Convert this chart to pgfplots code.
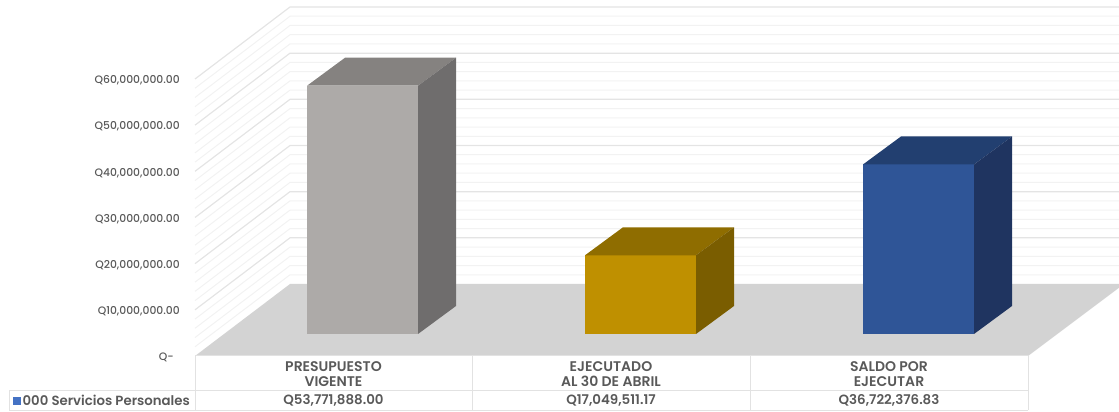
\documentclass[border=0pt]{standalone}
\usepackage{fontspec}
\setmainfont{Poppins}
\newfontfamily\pmed{Poppins Medium}
\newfontfamily\psemi{Poppins SemiBold}
\usepackage{pgfplots}
\pgfplotsset{compat=1.18}
\definecolor{txt}{HTML}{595959}
\definecolor{gridmaj}{HTML}{E4E4E4}
\definecolor{gridmin}{HTML}{F2F2F2}
\definecolor{tbl}{HTML}{E2E2E2}
\definecolor{floorc}{HTML}{D3D3D3}
\definecolor{legblue}{HTML}{4472C4}
% front, top, side of each bar
\definecolor{grayF}{HTML}{ADAAA8}
\definecolor{grayT}{HTML}{858280}
\definecolor{grayS}{HTML}{6F6D6D}
\definecolor{goldF}{HTML}{BF9000}
\definecolor{goldT}{HTML}{8F6D00}
\definecolor{goldS}{HTML}{7A5D00}
\definecolor{blueF}{HTML}{2F5597}
\definecolor{blueT}{HTML}{223F70}
\definecolor{blueS}{HTML}{1F3460}
\begin{document}
\begin{tikzpicture}
\begin{axis}[
  scale only axis, width=1119pt, height=412pt,
  xmin=0, xmax=1119,
  ymin=-12129936, ymax=77111736,
  axis line style={draw=none}, tick style={draw=none},
  scaled y ticks=false,
  ytick={0,10000000,20000000,30000000,40000000,50000000,60000000},
  yticklabels={Q-\hspace*{6pt},{Q10,000,000.00},{Q20,000,000.00},{Q30,000,000.00},{Q40,000,000.00},{Q50,000,000.00},{Q60,000,000.00}},
  yticklabel style={anchor=east, xshift=180pt, yshift=-1.5pt, font=\fontsize{10.8}{11}\pmed, text=txt, inner sep=0pt},
  xtick={333.5,611,889},
  xticklabels={PRESUPUESTO\\VIGENTE,EJECUTADO\\AL 30 DE ABRIL,SALDO POR\\EJECUTAR},
  xticklabel style={anchor=center, align=center, yshift=37.5pt, text=txt, inner sep=0pt,
    font=\fontsize{14}{15}\psemi},
  legend style={at={(axis description cs:0.0116,0.0275)}, anchor=west, draw=none, fill=none,
    inner sep=0pt, font=\fontsize{13.3}{13}\psemi, text=txt},
  legend image code/.code={\fill[legblue] (0pt,-3.5pt) rectangle (7pt,3.5pt);},
]
% floor
\addplot[fill=floorc, draw=none, forget plot] coordinates {(195,0)(290,15595668)(1124,15595668)(1028,0)} --cycle;

% walls, every 2 million
\pgfplotsinvokeforeach{2,4,6,8,12,14,16,18,22,24,26,28,32,34,36,38,42,44,46,48,52,54,56,58}{
  \draw[gridmin, line width=1pt] (axis cs:195,#1000000) -- ++(95pt,72pt) -- ++(829pt,0pt);
}
\pgfplotsinvokeforeach{10,20,30,40,50,60}{
  \draw[gridmaj, line width=1.2pt] (axis cs:195,#1000000) -- ++(95pt,72pt) -- ++(829pt,0pt);
}

% table
\draw[tbl, line width=1pt] (axis cs:195,0) -- (axis cs:195,-11700000);
\draw[tbl, line width=1pt] (axis cs:472,0) -- (axis cs:472,-11700000);
\draw[tbl, line width=1pt] (axis cs:750,0) -- (axis cs:750,-11700000);
\draw[tbl, line width=1pt] (axis cs:1028,0) -- (axis cs:1028,-11700000);
\draw[tbl, line width=1pt] (axis cs:195,0) -- (axis cs:1028,0);
\draw[tbl, line width=1pt] (axis cs:9,-7365000) -- (axis cs:1028,-7365000);
\draw[tbl, line width=1pt] (axis cs:9,-11700000) -- (axis cs:1028,-11700000);
\draw[tbl, line width=1pt] (axis cs:9,-7365000) -- (axis cs:9,-11700000);

% presupuesto
\addplot[ybar, bar shift=0pt, bar width=111pt, fill=grayF, draw=none, yshift=22pt, forget plot] coordinates {(362.5,53771888)};
\addplot[fill=grayT, draw=none, yshift=22pt, forget plot] coordinates {(307,53771888)(418,53771888)(456,59836870)(345,59836870)} --cycle;
\addplot[fill=grayS, draw=none, yshift=22pt, forget plot] coordinates {(418,0)(456,6064982)(456,59836870)(418,53771888)} --cycle;
% ejecutado
\addplot[ybar, bar shift=0pt, bar width=111pt, fill=goldF, draw=none, yshift=22pt, forget plot] coordinates {(640.5,17049511.17)};
\addplot[fill=goldT, draw=none, yshift=22pt, forget plot] coordinates {(585,17049511.17)(696,17049511.17)(734,23114493)(623,23114493)} --cycle;
\addplot[fill=goldS, draw=none, yshift=22pt, forget plot] coordinates {(696,0)(734,6064982)(734,23114493)(696,17049511.17)} --cycle;
% saldo
\addplot[ybar, bar shift=0pt, bar width=111pt, fill=blueF, draw=none, yshift=22pt, forget plot] coordinates {(918.5,36722376.83)};
\addplot[fill=blueT, draw=none, yshift=22pt, forget plot] coordinates {(863,36722376.83)(974,36722376.83)(1012,42787359)(901,42787359)} --cycle;
\addplot[fill=blueS, draw=none, yshift=22pt, forget plot] coordinates {(974,0)(1012,6064982)(1012,42787359)(974,36722376.83)} --cycle;

% value row
\node[text=txt, font=\fontsize{13.4}{13}\psemi] at (axis cs:333.5,-9700000) {Q53,771,888.00};
\node[text=txt, font=\fontsize{13.4}{13}\psemi] at (axis cs:611,-9700000) {Q17,049,511.17};
\node[text=txt, font=\fontsize{13.4}{13}\psemi] at (axis cs:889,-9700000) {Q36,722,376.83};

\addlegendimage{}
\addlegendentry{000 Servicios Personales}
\end{axis}
\end{tikzpicture}
\end{document}
